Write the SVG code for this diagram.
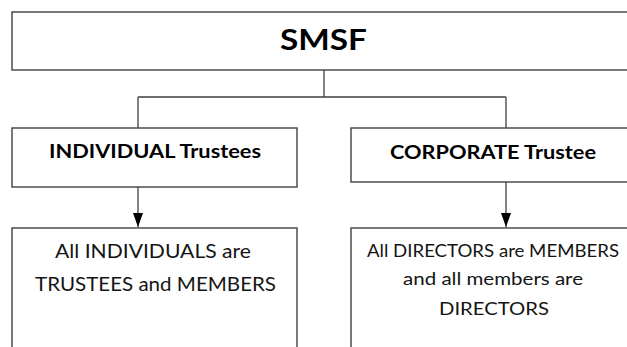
<svg xmlns="http://www.w3.org/2000/svg" width="627" height="347" viewBox="0 0 627 347">
<style>
.box{fill:#fff;stroke:#404040;stroke-width:1.4}
.conn{fill:none;stroke:#404040;stroke-width:1.3}
.t{font-family:Lato,"Open Sans","Liberation Sans",sans-serif;text-anchor:middle;fill:#141414}
.b{font-weight:bold;fill:#000}
</style>
<defs>
<marker id="ah" markerWidth="14" markerHeight="10" refX="14" refY="5" orient="auto" markerUnits="userSpaceOnUse" viewBox="0 0 14 10">
<path d="M0,0 L14,5 L0,10 Z" fill="#000"/>
</marker>
</defs>
<rect width="627" height="347" fill="#fff"/>
<g id="connectors">
<path class="conn" d="M324,70 V97 M138,97 H506 M138,97 V128 M506,97 V128"/>
<line class="conn" x1="138" y1="187" x2="138" y2="227" marker-end="url(#ah)"/>
<line class="conn" x1="506" y1="182" x2="506" y2="227" marker-end="url(#ah)"/>
</g>
<g id="smsf">
<rect class="box" x="12" y="12" width="630" height="58"/>
<text class="t b" x="323.5" y="50" font-size="28" textLength="87" lengthAdjust="spacingAndGlyphs">SMSF</text>
</g>
<g id="individual">
<rect class="box" x="12" y="128" width="285" height="59"/>
<text class="t b" x="155" y="158" font-size="18" textLength="212" lengthAdjust="spacingAndGlyphs">INDIVIDUAL Trustees</text>
</g>
<g id="corporate">
<rect class="box" x="351" y="128" width="290" height="54"/>
<text class="t b" x="493" y="158.5" font-size="18" textLength="206" lengthAdjust="spacingAndGlyphs">CORPORATE Trustee</text>
</g>
<g id="individuals-desc">
<rect class="box" x="12" y="228" width="285" height="130"/>
<text class="t" x="153" y="258" font-size="19" textLength="196" lengthAdjust="spacingAndGlyphs">All INDIVIDUALS are</text>
<text class="t" x="155.5" y="290.5" font-size="19" textLength="241" lengthAdjust="spacingAndGlyphs">TRUSTEES and MEMBERS</text>
</g>
<g id="directors-desc">
<rect class="box" x="351" y="228" width="290" height="130"/>
<text class="t" x="493" y="257" font-size="18" textLength="252" lengthAdjust="spacingAndGlyphs">All DIRECTORS are MEMBERS</text>
<text class="t" x="493" y="285" font-size="18" textLength="180" lengthAdjust="spacingAndGlyphs">and all members are</text>
<text class="t" x="494" y="315" font-size="18" textLength="110" lengthAdjust="spacingAndGlyphs">DIRECTORS</text>
</g>
</svg>
